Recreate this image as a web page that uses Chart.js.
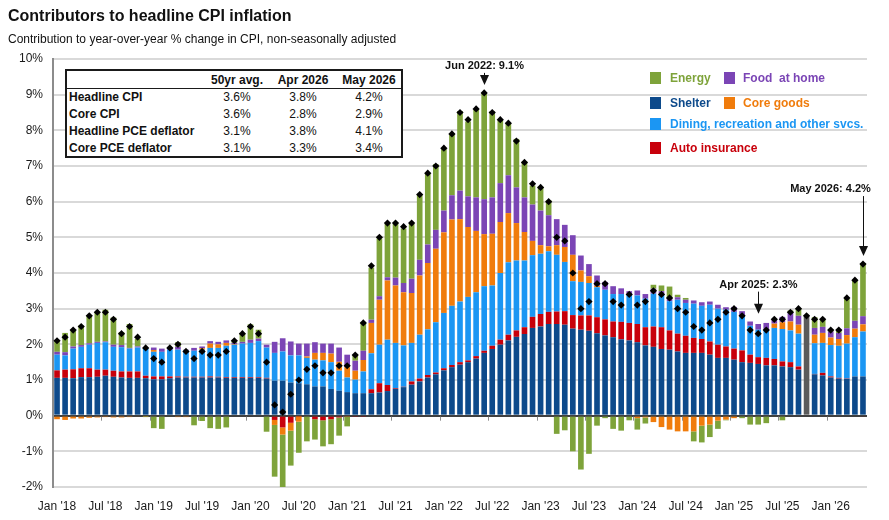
<!DOCTYPE html>
<html lang="en">
<head>
<meta charset="UTF-8">
<title>Contributors to headline CPI inflation</title>
<script src="https://cdn.jsdelivr.net/npm/chart.js"></script>
<style>
  body { margin: 0; background: #fff; font-family: "Liberation Sans", Arial, sans-serif; color: #111; }
  .wrap { position: relative; width: 889px; height: 520px; overflow: hidden; }
  canvas { position: absolute; left: 0; top: 0; }
  .title { position: absolute; left: 8px; top: 7px; font-size: 16px; font-weight: bold; }
  .sub { position: absolute; left: 8px; top: 32px; font-size: 12px; }
  /* summary table */
  .tbl { position: absolute; left: 65px; top: 69px; width: 338px; height: 89px; box-sizing: border-box;
         border: 2px solid #1a1a1a; background: #fff; font-size: 12px; }
  .tbl .rule { position: absolute; left: 0; right: 0; top: 17px; border-top: 1.5px solid #1a1a1a; }
  .tbl span { position: absolute; line-height: 14px; white-space: nowrap; }
  .tbl .c { transform: translateX(-50%); }
  .tbl .b { font-weight: bold; }
  /* legend */
  .lg span { position: absolute; line-height: 14px; font-size: 12px; font-weight: bold; white-space: nowrap; }
  .lg i { position: absolute; width: 11px; height: 12px; }
</style>
</head>
<body>
<div class="wrap">
  <canvas id="cpiChart" width="889" height="520"></canvas>
  <div class="title">Contributors to headline CPI inflation</div>
  <div class="sub">Contribution to year-over-year % change in CPI, non-seasonally adjusted</div>

  <div class="tbl">
    <div class="rule"></div>
    <span class="c b" style="left:170px;top:2px">50yr avg.</span>
    <span class="c b" style="left:236px;top:2px">Apr 2026</span>
    <span class="c b" style="left:302px;top:2px">May 2026</span>

    <span class="b" style="left:2px;top:19px">Headline CPI</span>
    <span class="c" style="left:170px;top:19px">3.6%</span>
    <span class="c" style="left:236px;top:19px">3.8%</span>
    <span class="c" style="left:302px;top:19px">4.2%</span>

    <span class="b" style="left:2px;top:36px">Core CPI</span>
    <span class="c" style="left:170px;top:36px">3.6%</span>
    <span class="c" style="left:236px;top:36px">2.8%</span>
    <span class="c" style="left:302px;top:36px">2.9%</span>

    <span class="b" style="left:2px;top:53px">Headline PCE deflator</span>
    <span class="c" style="left:170px;top:53px">3.1%</span>
    <span class="c" style="left:236px;top:53px">3.8%</span>
    <span class="c" style="left:302px;top:53px">4.1%</span>

    <span class="b" style="left:2px;top:70px">Core PCE deflator</span>
    <span class="c" style="left:170px;top:70px">3.1%</span>
    <span class="c" style="left:236px;top:70px">3.3%</span>
    <span class="c" style="left:302px;top:70px">3.4%</span>
  </div>

  <div class="lg">
    <i style="left:650px;top:72px;background:#7ea33a"></i>
    <span style="left:670px;top:71px;color:#7ea33a">Energy</span>
    <i style="left:724px;top:72px;background:#7b45b5"></i>
    <span style="left:743px;top:71px;color:#7b45b5">Food&nbsp; at home</span>

    <i style="left:650px;top:97px;background:#0d4a8b"></i>
    <span style="left:670px;top:96px;color:#0d4a8b">Shelter</span>
    <i style="left:724px;top:97px;background:#f07c0c"></i>
    <span style="left:743px;top:96px;color:#f07c0c">Core goods</span>

    <i style="left:650px;top:118px;background:#1b96f3"></i>
    <span style="left:670px;top:117px;color:#1b96f3">Dining, recreation and other svcs.</span>

    <i style="left:650px;top:142px;background:#c8000b"></i>
    <span style="left:670px;top:141px;color:#c8000b">Auto insurance</span>
  </div>
</div>

<script>
// months Jan 2018 .. May 2026
const years = ['18', '19', '20', '21', '22', '23', '24', '25', '26'];
const monthNames = ['Jan', 'Feb', 'Mar', 'Apr', 'May', 'Jun', 'Jul', 'Aug', 'Sep', 'Oct', 'Nov', 'Dec'];
const months = [];
years.forEach(y => monthNames.forEach(m => months.push(m + " '" + y)));
months.length = 101;

// contributions, percentage points
const shelter = [
  1.06, 1.06, 1.05, 1.08, 1.08, 1.09, 1.12, 1.09, 1.07, 1.06, 1.06, 1.05,
  1.02, 1.02, 1.05, 1.07, 1.07, 1.07, 1.07, 1.07, 1.07, 1.06, 1.06, 1.06,
  1.06, 1.06, 1.04, 0.98, 0.98, 0.93, 0.91, 0.88, 0.82, 0.82, 0.75, 0.70,
  0.66, 0.63, 0.63, 0.63, 0.65, 0.69, 0.75, 0.80, 0.87, 0.96, 1.07, 1.16,
  1.27, 1.36, 1.43, 1.50, 1.60, 1.76, 1.87, 1.99, 2.11, 2.21, 2.29, 2.46,
  2.50, 2.57, 2.57, 2.55, 2.44, 2.41, 2.38, 2.31, 2.25, 2.20, 2.14, 2.11,
  2.06, 1.97, 1.93, 1.87, 1.85, 1.80, 1.76, 1.76, 1.76, 1.71, 1.62, 1.62,
  1.57, 1.50, 1.48, 1.45, 1.41, 1.41, 1.38, 1.36, 1.29, null, 1.16, 1.13,
  1.07, 1.04, 1.03, 1.10, 1.10
];
const autoIns = [
  0.21, 0.23, 0.25, 0.25, 0.25, 0.20, 0.17, 0.17, 0.17, 0.18, 0.18, 0.07,
  0.08, 0.08, 0.05, 0.03, 0.02, 0.02, 0.02, 0.03, 0.02, 0.02, 0.02, 0.02,
  0.02, 0.02, 0.02, -0.12, -0.33, -0.20, -0.02, 0.00, -0.10, -0.13, -0.10, -0.05,
  -0.02, -0.02, -0.02, 0.11, 0.26, 0.17, 0.02, 0.01, 0.09, 0.08, 0.07, 0.05,
  0.06, 0.06, 0.07, 0.05, 0.07, 0.06, 0.09, 0.14, 0.16, 0.18, 0.19, 0.31,
  0.35, 0.34, 0.35, 0.38, 0.38, 0.40, 0.43, 0.45, 0.45, 0.44, 0.49, 0.49,
  0.51, 0.51, 0.57, 0.61, 0.54, 0.50, 0.48, 0.42, 0.39, 0.37, 0.37, 0.32,
  0.31, 0.33, 0.23, 0.19, 0.21, 0.18, 0.14, 0.14, 0.09, null, 0.01, 0.07,
  0.03, 0.02, 0.01, 0.00, -0.03
];
const dining = [
  0.44, 0.40, 0.58, 0.60, 0.66, 0.75, 0.77, 0.67, 0.68, 0.64, 0.67, 0.77,
  0.69, 0.69, 0.75, 0.75, 0.74, 0.73, 0.76, 0.80, 0.81, 0.88, 0.91, 0.94,
  0.96, 1.01, 0.85, 0.78, 0.82, 0.76, 0.78, 0.74, 0.75, 0.73, 0.75, 0.56,
  0.41, 0.38, 0.61, 1.01, 1.08, 1.27, 1.27, 1.16, 1.08, 1.23, 1.28, 1.41,
  1.55, 1.66, 1.70, 1.78, 1.79, 1.81, 1.69, 1.87, 2.03, 1.96, 1.87, 1.73,
  1.69, 1.70, 1.59, 1.38, 0.95, 0.94, 0.91, 0.84, 0.83, 0.77, 0.78, 0.79,
  0.80, 0.80, 0.92, 0.91, 0.82, 0.95, 0.92, 0.96, 0.93, 1.03, 1.01, 1.03,
  1.03, 0.97, 0.81, 0.77, 0.81, 0.87, 0.91, 0.89, 0.92, null, 0.86, 0.84,
  0.88, 0.90, 0.98, 1.10, 1.26
];
const coreGoods = [
  -0.10, -0.12, -0.08, -0.08, -0.06, -0.05, -0.04, -0.05, -0.05, -0.04, -0.03, -0.02,
  0.05, 0.00, 0.00, -0.04, -0.04, 0.00, 0.04, 0.12, 0.10, 0.08, 0.02, 0.00,
  0.00, 0.00, 0.00, -0.14, -0.20, -0.22, -0.15, 0.04, 0.19, 0.21, 0.24, 0.25,
  0.29, 0.25, 0.32, 0.85, 1.26, 1.66, 1.61, 1.49, 1.40, 1.66, 1.86, 2.06,
  2.26, 2.42, 2.31, 1.96, 1.72, 1.46, 1.45, 1.43, 1.38, 1.05, 0.80, 0.40,
  0.24, 0.14, 0.27, 0.42, 0.74, 0.32, 0.19, 0.04, 0.00, 0.00, 0.00, 0.00,
  -0.07, -0.05, -0.18, -0.32, -0.39, -0.44, -0.44, -0.44, -0.28, -0.25, -0.14, -0.11,
  -0.07, 0.00, 0.00, 0.00, 0.00, 0.12, 0.19, 0.25, 0.25, null, 0.24, 0.28,
  0.21, 0.19, 0.24, 0.24, 0.20
];
const foodAtHome = [
  0.08, 0.09, 0.06, 0.05, 0.04, 0.03, 0.02, 0.06, 0.06, 0.02, 0.03, 0.00,
  0.07, 0.09, 0.05, 0.08, 0.02, 0.08, 0.05, 0.07, 0.07, 0.07, 0.03, 0.05,
  0.09, 0.07, 0.08, 0.31, 0.37, 0.39, 0.33, 0.36, 0.30, 0.26, 0.28, 0.40,
  0.35, 0.28, 0.26, 0.09, 0.10, 0.09, 0.22, 0.26, 0.40, 0.44, 0.52, 0.53,
  0.61, 0.68, 0.80, 0.86, 0.94, 0.98, 1.02, 1.09, 1.06, 1.00, 0.97, 1.02,
  0.97, 0.87, 0.73, 0.62, 0.55, 0.42, 0.34, 0.29, 0.22, 0.22, 0.16, 0.10,
  0.14, 0.13, 0.14, 0.10, 0.06, 0.07, 0.09, 0.09, 0.10, 0.09, 0.11, 0.07,
  0.14, 0.13, 0.12, 0.16, 0.17, 0.12, 0.15, 0.24, 0.25, null, 0.19, 0.17,
  0.17, 0.17, 0.19, 0.22, 0.23
];
const energy = [
  0.32, 0.54, 0.47, 0.55, 0.79, 0.83, 0.89, 0.76, 0.36, 0.67, 0.21, -0.02,
  -0.35, -0.37, -0.03, 0.13, 0.00, -0.27, -0.15, -0.35, -0.37, -0.33, 0.05, 0.25,
  0.43, 0.25, -0.45, -1.45, -1.47, -0.98, -0.87, -0.72, -0.57, -0.73, -0.70, -0.51,
  -0.28, 0.15, 0.81, 1.46, 1.62, 1.51, 1.50, 1.53, 1.54, 1.84, 2.00, 1.84,
  1.73, 1.73, 2.23, 2.10, 2.46, 2.98, 2.41, 1.76, 1.47, 1.36, 1.01, 0.53,
  0.67, 0.42, -0.51, -0.41, -1.00, -1.51, -1.07, -0.28, -0.07, -0.37, -0.42, -0.13,
  -0.32, -0.17, 0.11, 0.16, 0.35, 0.07, 0.05, -0.28, -0.47, -0.35, -0.23, -0.02,
  0.00, -0.07, -0.25, -0.25, -0.21, -0.03, -0.13, 0.07, 0.21, null, 0.30, 0.20,
  0.05, 0.09, 0.82, 1.15, 1.49
];
// Oct 2025: no component detail, total only
const noDetail = months.map((m, i) => i === 93 ? 2.79 : null);
// headline CPI, y/y %
const headline = [
  2.1, 2.2, 2.4, 2.5, 2.8, 2.9, 2.9, 2.7, 2.3, 2.5, 2.2, 1.9,
  1.6, 1.5, 1.9, 2.0, 1.8, 1.6, 1.8, 1.7, 1.7, 1.8, 2.1, 2.3,
  2.5, 2.3, 1.5, 0.3, 0.1, 0.6, 1.0, 1.3, 1.4, 1.2, 1.2, 1.4,
  1.4, 1.7, 2.6, 4.2, 5.0, 5.4, 5.4, 5.3, 5.4, 6.2, 6.8, 7.0,
  7.5, 7.9, 8.5, 8.3, 8.6, 9.05, 8.5, 8.3, 8.2, 7.7, 7.1, 6.5,
  6.4, 6.0, 5.0, 4.9, 4.0, 3.0, 3.2, 3.7, 3.7, 3.2, 3.1, 3.4,
  3.1, 3.2, 3.5, 3.4, 3.3, 3.0, 2.9, 2.5, 2.4, 2.6, 2.7, 2.9,
  3.0, 2.8, 2.4, 2.3, 2.4, 2.7, 2.7, 2.9, 3.0, 2.8, 2.7, 2.7,
  2.4, 2.4, 3.3, 3.8, 4.25
];

const callouts = [
  { idx: 53, text: 'Jun 2022: 9.1%', dx: 0, textGap: 19, gap: 8 },
  { idx: 87, text: 'Apr 2025: 2.3%', dx: 0, textGap: 29, gap: 20 },
  { idx: 100, text: 'May 2026: 4.2%', dx: -33, textGap: 67, gap: 8 }
];

const annotate = {
  id: 'annotate',
  afterDatasetsDraw(chart) {
    const { ctx, scales: { x, y } } = chart;
    ctx.save();
    // small ticks on the zero line between Jun/Jul and Dec/Jan
    ctx.strokeStyle = '#8c8c8c';
    ctx.lineWidth = 1;
    const y0 = y.getPixelForValue(0);
    for (let i = 5; i < months.length; i += 6) {
      const px = Math.round((x.getPixelForValue(i) + x.getPixelForValue(i + 1)) / 2) + 0.5;
      ctx.beginPath();
      ctx.moveTo(px, y0 + 1);
      ctx.lineTo(px, y0 + 5);
      ctx.stroke();
    }
    // callouts
    ctx.fillStyle = '#111';
    ctx.strokeStyle = '#111';
    ctx.font = 'bold 11px "Liberation Sans", Arial, sans-serif';
    ctx.textAlign = 'center';
    ctx.textBaseline = 'middle';
    callouts.forEach(c => {
      const px = Math.round(x.getPixelForValue(c.idx)) + 0.5;
      const tip = y.getPixelForValue(headline[c.idx]) - c.gap;
      const top = tip - c.textGap;
      ctx.fillText(c.text, px + c.dx, top);
      ctx.beginPath();
      ctx.moveTo(px, top + 7);
      ctx.lineTo(px, tip - 6);
      ctx.stroke();
      ctx.beginPath();
      ctx.moveTo(px - 4.5, tip - 10);
      ctx.lineTo(px + 4.5, tip - 10);
      ctx.lineTo(px, tip);
      ctx.closePath();
      ctx.fill();
    });
    ctx.restore();
  }
};

const font = { family: '"Liberation Sans", Arial, sans-serif', size: 12 };

new Chart(document.getElementById('cpiChart'), {
  type: 'bar',
  data: {
    labels: months,
    datasets: [
      { type: 'line', label: 'Headline CPI', data: headline, stack: 'cpi', showLine: false,
        pointStyle: 'rectRot', pointRadius: 3.6, pointBackgroundColor: '#000', pointBorderColor: '#000', pointBorderWidth: 0 },
      { label: 'Shelter', data: shelter, backgroundColor: '#0d4a8b' },
      { label: 'Auto insurance', data: autoIns, backgroundColor: '#c8000b' },
      { label: 'Dining, recreation and other svcs.', data: dining, backgroundColor: '#1b96f3' },
      { label: 'Core goods', data: coreGoods, backgroundColor: '#f07c0c' },
      { label: 'Food at home', data: foodAtHome, backgroundColor: '#7b45b5' },
      { label: 'Energy', data: energy, backgroundColor: '#7ea33a' },
      { label: 'No detail', data: noDetail, backgroundColor: '#5b5b5b' }
    ]
  },
  options: {
    responsive: false,
    animation: false,
    layout: { padding: { top: 59, right: 22, left: 0, bottom: 0 } },
    datasets: { bar: { barPercentage: 0.7, categoryPercentage: 1, stack: 'parts' } },
    plugins: { legend: { display: false }, tooltip: { enabled: false } },
    scales: {
      x: {
        stacked: true,
        grid: { display: false, drawTicks: false },
        border: { display: false },
        ticks: {
          autoSkip: false, maxRotation: 0, padding: 12, color: '#1a1a1a', font,
          callback: (v, i) => i % 6 === 0 ? months[i] : ''
        },
        afterFit: s => { s.height = 33; }
      },
      y: {
        stacked: true,
        min: -2, max: 10,
        ticks: { stepSize: 1, padding: 10, color: '#1a1a1a', font, callback: v => v + '%' },
        grid: {
          drawTicks: false,
          color: c => c.tick.value === 0 ? '#404040' : '#d9d9d9',
          lineWidth: 2
        },
        border: { display: true, color: '#8c8c8c', width: 2 },
        afterFit: s => { s.width = 53; }
      }
    }
  },
  plugins: [annotate]
});
</script>
</body>
</html>
